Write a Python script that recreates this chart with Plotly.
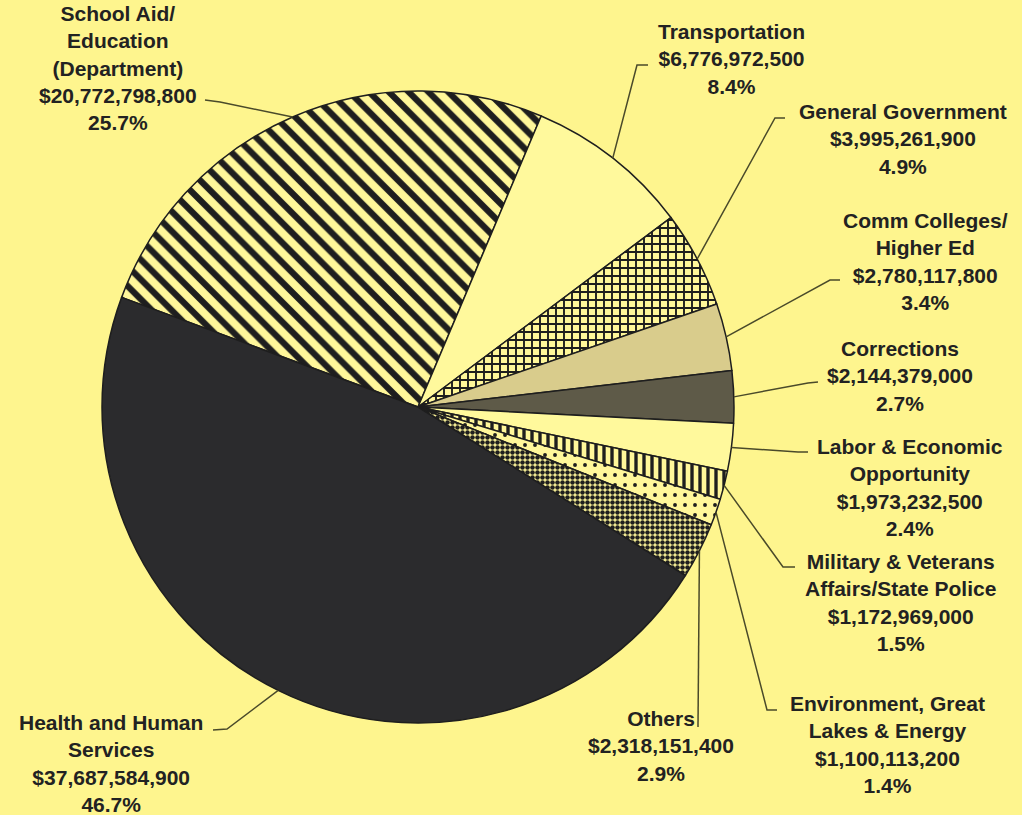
import plotly.graph_objects as go
import math

# ---------------- data ----------------
categories = [
    "School Aid/\nEducation\n(Department)",
    "Transportation",
    "General Government",
    "Comm Colleges/\nHigher Ed",
    "Corrections",
    "Labor & Economic\nOpportunity",
    "Military & Veterans\nAffairs/State Police",
    "Environment, Great\nLakes & Energy",
    "Others",
    "Health and Human\nServices",
]
amounts = [
    20772798800,
    6776972500,
    3995261900,
    2780117800,
    2144379000,
    1973232500,
    1172969000,
    1100113200,
    2318151400,
    37687584900,
]

# ---------------- styles ----------------
W, H = 1022, 815
BG = "#FEF58E"
fill_colors = ["#FFF79A", "#FFF99C", "#FFF79A", "#D9CC8C", "#5E5A48",
               "#FFF99C", "#FFF79A", "#FFF79A", "#FFF79A", "#2B2B2D"]
pat_shapes = ["\\", "", "+", "", "", "", "|", ".", ".", ""]
pat_sizes = [14, 8, 8, 8, 8, 8, 8, 10, 5, 8]
pat_solid = [0.45, 0.3, 0.42, 0.3, 0.3, 0.3, 0.42, 0.12, 0.65, 0.3]
pat_fg = ["#1E1E1E"] * 10
pat_bg = fill_colors

# pie geometry (pixels)
CX, CY, R = 418, 407, 316
ROT = 290.3

# label layout: (center x, block center y) and leader (text end, elbow)
label_pos = [(118, 68), (731, 59), (903, 139), (925, 262), (900, 376),
             (910, 487), (900, 602), (887, 744), (661, 746), (111, 763)]
leader_pts = [
    [(205, 100), (220, 102)],
    [(648, 65), (637, 65)],
    [(785, 118), (775, 118)],
    [(840, 280), (830, 280)],
    [(818, 382), (808, 383)],
    [(808, 452), (798, 452)],
    [(795, 567), (783, 567)],
    [(777, 710), (767, 710)],
    [(698, 727), (698, 727)],
    [(213, 730), (227, 729)],
]
FONT = dict(family="Arial, Liberation Sans, sans-serif", size=21, color="#222222", weight="bold")
LEADER = dict(color="#4A4A2A", width=1.5)


def px(x):
    return x / W


def py(y):
    return 1 - y / H


fig = go.Figure()
fig.add_trace(go.Pie(
    labels=[c.replace("\n", " ") for c in categories],
    values=amounts,
    sort=False,
    direction="clockwise",
    rotation=ROT,
    textinfo="none",
    hoverinfo="label+value+percent",
    showlegend=False,
    domain=dict(x=[px(CX - R), px(CX + R)], y=[py(CY + R), py(CY - R)]),
    marker=dict(
        colors=fill_colors,
        line=dict(color="#1E1E1E", width=1.5),
        pattern=dict(shape=pat_shapes, size=pat_sizes, solidity=pat_solid,
                     fgcolor=pat_fg, bgcolor=pat_bg, fillmode="replace"),
    ),
))

total = sum(amounts)
cum = 0
shapes = []
annotations = []
for i, (name, v) in enumerate(zip(categories, amounts)):
    mid = ROT + 360 * (cum + v / 2) / total
    cum += v
    a = math.radians(mid)
    ex, ey = CX + R * math.sin(a), CY - R * math.cos(a)
    (tx, ty), (bx, by) = leader_pts[i]
    path = f"M {px(tx)},{py(ty)} L {px(bx)},{py(by)} L {px(ex)},{py(ey)}"
    shapes.append(dict(type="path", xref="paper", yref="paper", path=path,
                       line=LEADER))
    pct = 100 * v / total
    text = name.replace("\n", "<br>") + f"<br>${v:,.0f}<br>{pct:.1f}%"
    lx, ly = label_pos[i]
    annotations.append(dict(x=px(lx), y=py(ly), xref="paper", yref="paper",
                            text=text, showarrow=False, align="center",
                            xanchor="center", yanchor="middle", font=FONT))

fig.update_layout(
    width=W, height=H,
    margin=dict(l=0, r=0, t=0, b=0),
    paper_bgcolor=BG, plot_bgcolor=BG,
    shapes=shapes, annotations=annotations,
)
fig.write_html("out.html")
